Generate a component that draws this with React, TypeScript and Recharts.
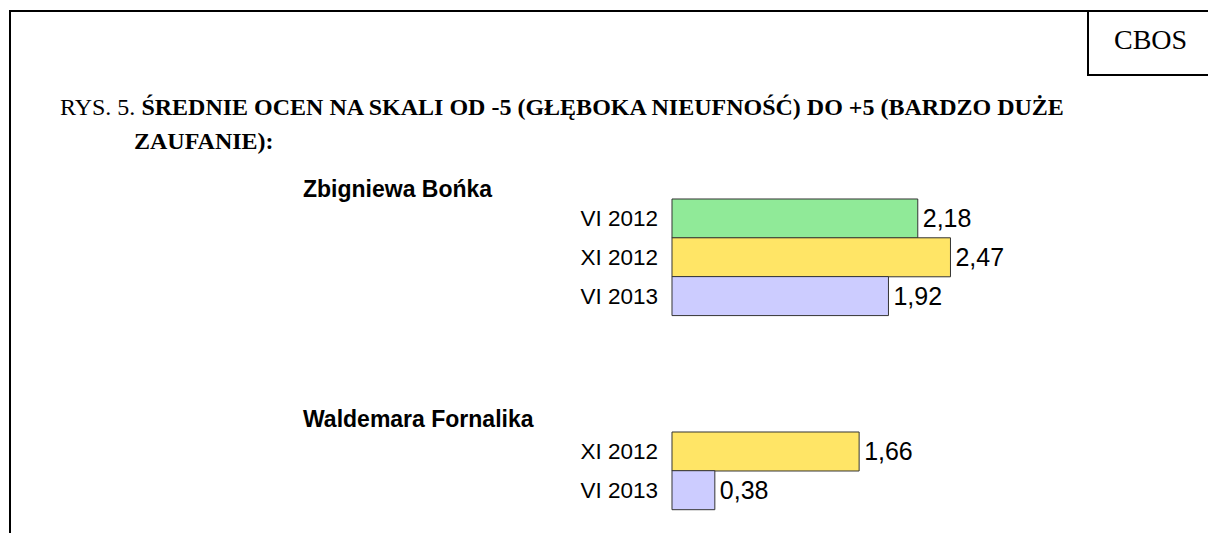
import React from 'react';
import { BarChart, Bar, XAxis, YAxis, Cell, LabelList } from 'recharts';

// ---- data ----
const titleLine1Normal = 'RYS. 5. ';
const titleLine1Bold = 'ŚREDNIE OCEN NA SKALI OD -5 (GŁĘBOKA NIEUFNOŚĆ) DO +5 (BARDZO DUŻE';
const titleLine2Bold = 'ZAUFANIE):';
const sourceLabel = 'CBOS';

const groupNames = ['Zbigniewa Bońka', 'Waldemara Fornalika'];

const boniekPeriods = ['VI 2012', 'XI 2012', 'VI 2013'];
const boniekValues = [2.18, 2.47, 1.92];

const fornalikPeriods = ['XI 2012', 'VI 2013'];
const fornalikValues = [1.66, 0.38];

const periodColors: Record<string, string> = {
  'VI 2012': '#90EA98',
  'XI 2012': '#FFE566',
  'VI 2013': '#CCCCFF',
};

const SANS = '"Liberation Sans", Arial, sans-serif';
const SERIF = '"Liberation Serif", "Times New Roman", serif';

const fmt = (v: any) => Number(v).toFixed(2).replace('.', ',');

type Row = { period: string; value: number };

function GroupChart({ rows, top, height }: { rows: Row[]; top: number; height: number }) {
  return (
    <div style={{ position: 'absolute', left: 0, top, width: 1208, height }}>
      <BarChart
        width={1208}
        height={height}
        data={rows}
        layout="vertical"
        margin={{ top: 10, right: 85, bottom: 10, left: 0 }}
        barCategoryGap={0}
        barGap={0}
      >
        <XAxis type="number" domain={[0, 4]} hide />
        <YAxis
          type="category"
          dataKey="period"
          width={672}
          axisLine={false}
          tickLine={false}
          tickSize={0}
          tickMargin={14}
          interval={0}
          tick={{ fill: '#000', fontSize: 22.5, fontFamily: SANS }}
        />
        <Bar dataKey="value" stroke="#333333" strokeWidth={1} isAnimationActive={false}>
          {rows.map((r, i) => (
            <Cell key={i} fill={periodColors[r.period]} />
          ))}
          <LabelList
            dataKey="value"
            position="right"
            offset={5}
            formatter={fmt}
            fill="#000"
            fontSize={25}
            fontFamily={SANS}
          />
        </Bar>
      </BarChart>
    </div>
  );
}

export default function App() {
  const boniekRows: Row[] = boniekPeriods.map((p, i) => ({ period: p, value: boniekValues[i] }));
  const fornalikRows: Row[] = fornalikPeriods.map((p, i) => ({ period: p, value: fornalikValues[i] }));

  return (
    <div
      style={{
        position: 'absolute',
        left: 0,
        top: 0,
        width: 1208,
        height: 533,
        background: '#fff',
        overflow: 'hidden',
      }}
    >
      {/* frame */}
      <div style={{ position: 'absolute', left: 9, top: 10, width: 1199, height: 2, background: '#000' }} />
      <div style={{ position: 'absolute', left: 9, top: 10, width: 2, height: 523, background: '#000' }} />
      <div
        style={{
          position: 'absolute',
          left: 1087,
          top: 10,
          width: 140,
          height: 64,
          borderLeft: '2px solid #000',
          borderBottom: '2px solid #000',
        }}
      />

      <svg width={1208} height={533} style={{ position: 'absolute', left: 0, top: 0 }}>
        <text x={1114} y={49} fontFamily={SERIF} fontSize={28} fill="#000">
          {sourceLabel}
        </text>
        <text x={60} y={115} fontFamily={SERIF} fontSize={24} fill="#000">
          <tspan>{titleLine1Normal}</tspan>
          <tspan fontWeight="bold">{titleLine1Bold}</tspan>
        </text>
        <text x={134} y={149} fontFamily={SERIF} fontSize={24} fontWeight="bold" fill="#000">
          {titleLine2Bold}
        </text>
        <text x={303} y={197} fontFamily={SANS} fontSize={23} fontWeight="bold" fill="#000">
          {groupNames[0]}
        </text>
        <text x={303} y={427} fontFamily={SANS} fontSize={23} fontWeight="bold" fill="#000">
          {groupNames[1]}
        </text>
      </svg>

      <GroupChart rows={boniekRows} top={189} height={136.4} />
      <GroupChart rows={fornalikRows} top={422} height={97.4} />
    </div>
  );
}
